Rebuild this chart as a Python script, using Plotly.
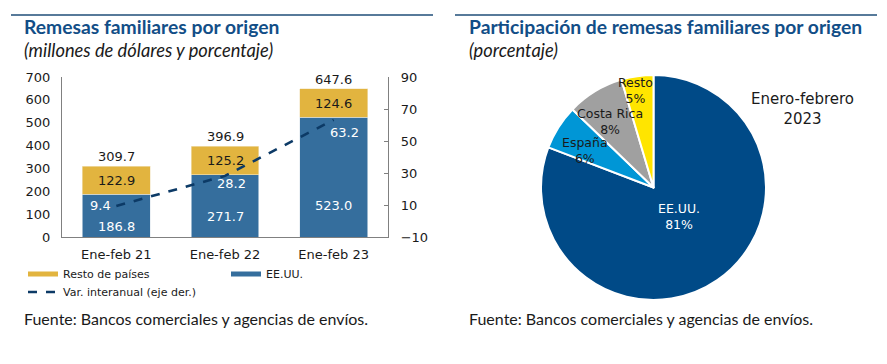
import plotly.graph_objects as go

# ---------------- data ----------------
categories = ["Ene-feb 21", "Ene-feb 22", "Ene-feb 23"]
eeuu = [186.8, 271.7, 523.0]
resto_paises = [122.9, 125.2, 124.6]
totales = [309.7, 396.9, 647.6]
var_interanual = [9.4, 28.2, 63.2]

pie_labels = ["EE.UU.", "España", "Costa Rica", "Resto"]
pie_values = [80.8, 6.4, 8.2, 4.6]

left_ticks = [0, 100, 200, 300, 400, 500, 600, 700]
right_ticks = [-10, 10, 30, 50, 70, 90]

# label placement (not data)
eeuu_label_pos = [48, 88, 140]
var_label_shift = [(-16, 0), (6, -8), (11, -13)]

W, H = 887, 364
def px(x): return x / W
def py(y): return 1 - y / H

C_BLUE = "#356e9d"
C_YEL = "#e2b43f"
C_LINE = "#0c3a66"
C_TITLE = "#124e87"
TXT = "#1a1a1a"
DV = "DejaVu Sans, Verdana, sans-serif"
TICKF = dict(family=DV, size=13, color=TXT)

fig = go.Figure()

fig.add_trace(go.Bar(x=categories, y=eeuu, marker_color=C_BLUE, marker_line=dict(color="#dfe7ef", width=0.6),
                     showlegend=False, hoverinfo="skip"))
fig.add_trace(go.Bar(x=categories, y=resto_paises, marker_color=C_YEL, marker_line=dict(color="#f3e6c4", width=0.6),
                     showlegend=False, hoverinfo="skip"))
fig.add_trace(go.Scatter(x=categories, y=var_interanual, yaxis="y2", mode="lines",
                         line=dict(color=C_LINE, width=2.6, dash="dash"), showlegend=False, hoverinfo="skip"))

# legend-only entries (wide flat swatches)
fig.add_trace(go.Scatter(x=[None], y=[None], mode="lines", name="Resto de países",
                         line=dict(color=C_YEL, width=5), legend="legend"))
fig.add_trace(go.Scatter(x=[None], y=[None], mode="lines", name="EE.UU.",
                         line=dict(color=C_BLUE, width=5), legend="legend"))
fig.add_trace(go.Scatter(x=[None], y=[None], mode="lines", name="Var. interanual (eje der.)",
                         line=dict(color=C_LINE, width=2.6, dash="dash"), legend="legend2"))

fig.add_trace(go.Pie(labels=pie_labels, values=pie_values, sort=False, direction="clockwise", rotation=0,
                     marker=dict(colors=["#004a87", "#0096d6", "#a0a0a0", "#ffe500"],
                                 line=dict(color="white", width=2)),
                     textinfo="none", hoverinfo="skip", showlegend=False,
                     domain=dict(x=[px(540), px(767)], y=[py(300), py(75)])))

ann = []
for c, e, r, t, lp in zip(categories, eeuu, resto_paises, totales, eeuu_label_pos):
    ann.append(dict(x=c, y=lp, xref="x", yref="y", text=f"{e:.1f}", showarrow=False,
                    xanchor="center", yanchor="middle", font=dict(family=DV, size=13, color="white")))
    ann.append(dict(x=c, y=e + r / 2, xref="x", yref="y", text=f"{r:.1f}", showarrow=False,
                    xanchor="center", yanchor="middle", font=dict(family=DV, size=13, color=TXT)))
    ann.append(dict(x=c, y=t, xref="x", yref="y", text=f"{t:.1f}", showarrow=False,
                    xanchor="center", yanchor="bottom", font=dict(family=DV, size=13, color=TXT)))
for c, v, (dx, dy) in zip(categories, var_interanual, var_label_shift):
    ann.append(dict(x=c, y=v, xref="x", yref="y2", text=f"{v:.1f}", showarrow=False,
                    xanchor="center", yanchor="middle",
                    xshift=dx, yshift=dy, font=dict(family=DV, size=13, color="white")))

# titles
for x0, title, sub in [(22, "Remesas familiares por origen", "(millones de dólares y porcentaje)"),
                       (467, "Participación de remesas familiares por origen", "(porcentaje)")]:
    ann.append(dict(x=px(x0), y=py(27), xref="paper", yref="paper", xanchor="left", yanchor="middle",
                    text=f"<b>{title}</b>", showarrow=False,
                    font=dict(family="Lato", size=19.3, color=C_TITLE)))
    ann.append(dict(x=px(x0), y=py(50), xref="paper", yref="paper", xanchor="left", yanchor="middle",
                    text=sub, showarrow=False,
                    font=dict(family="Lato", size=18.3, color=TXT, style="italic")))
    ann.append(dict(x=px(x0), y=py(318), xref="paper", yref="paper", xanchor="left", yanchor="middle",
                    text="Fuente: Bancos comerciales y agencias de envíos.", showarrow=False,
                    font=dict(family="Lato", size=16, color=TXT)))

# pie labels
pie_txt = [("EE.UU.<br>81%", 679, 216, "white"), ("España<br>6%", 585, 150, TXT),
           ("Costa Rica<br>8%", 610, 121.5, TXT), ("Resto<br>5%", 635, 90, TXT)]
for t, x0, y0, col in pie_txt:
    ann.append(dict(x=px(x0), y=py(y0), xref="paper", yref="paper", text=t, showarrow=False,
                    xanchor="center", yanchor="middle",
                    font=dict(family=DV, size=12.5, color=col)))
ann.append(dict(x=px(802), y=py(108.5), xref="paper", yref="paper", text="Enero-febrero<br>2023",
                xanchor="center", yanchor="middle",
                showarrow=False, font=dict(family=DV, size=15, color=TXT)))

shapes = [dict(type="line", xref="paper", yref="paper", x0=px(11), x1=px(433), y0=py(15), y1=py(15),
               line=dict(color="#1f4e79", width=1.5)),
          dict(type="line", xref="paper", yref="paper", x0=px(455), x1=px(877), y0=py(15), y1=py(15),
               line=dict(color="#1f4e79", width=1.5))]

fig.update_layout(
    width=W, height=H, margin=dict(l=0, r=0, t=0, b=0, autoexpand=False),
    paper_bgcolor="white", plot_bgcolor="white",
    barmode="stack", bargap=0.375,
    xaxis=dict(domain=[px(62), px(388)], showline=True, linecolor="#808080", linewidth=1.2,
               showgrid=False, ticks="", tickfont=TICKF, fixedrange=True, ticklabelstandoff=5),
    yaxis=dict(range=[0, 700], tickvals=left_ticks, showline=True, linecolor="#808080", linewidth=1.2,
               showgrid=False, zeroline=False, ticks="", tickfont=TICKF, ticklabelstandoff=8,
               domain=[py(237), py(77)]),
    yaxis2=dict(range=[-10, 90], tickvals=right_ticks, overlaying="y", side="right", anchor="x",
                showline=True, linecolor="#808080", linewidth=1.2, showgrid=False, zeroline=False,
                ticks="inside", ticklen=4, tickcolor="#808080", tickfont=TICKF, ticklabelstandoff=9),
    legend=dict(orientation="h", x=px(23), y=py(274), xanchor="left", yanchor="middle", traceorder="normal",
                entrywidth=158, entrywidthmode="pixels", font=dict(family=DV, size=11, color=TXT),
                bgcolor="rgba(0,0,0,0)", itemwidth=30),
    legend2=dict(orientation="h", x=px(23), y=py(292), xanchor="left", yanchor="middle",
                 font=dict(family=DV, size=11, color=TXT), bgcolor="rgba(0,0,0,0)", itemwidth=30),
    annotations=ann, shapes=shapes,
)

fig.write_html("out.html", config={"displayModeBar": False},
               post_script="document.body.style.margin='0px';")
